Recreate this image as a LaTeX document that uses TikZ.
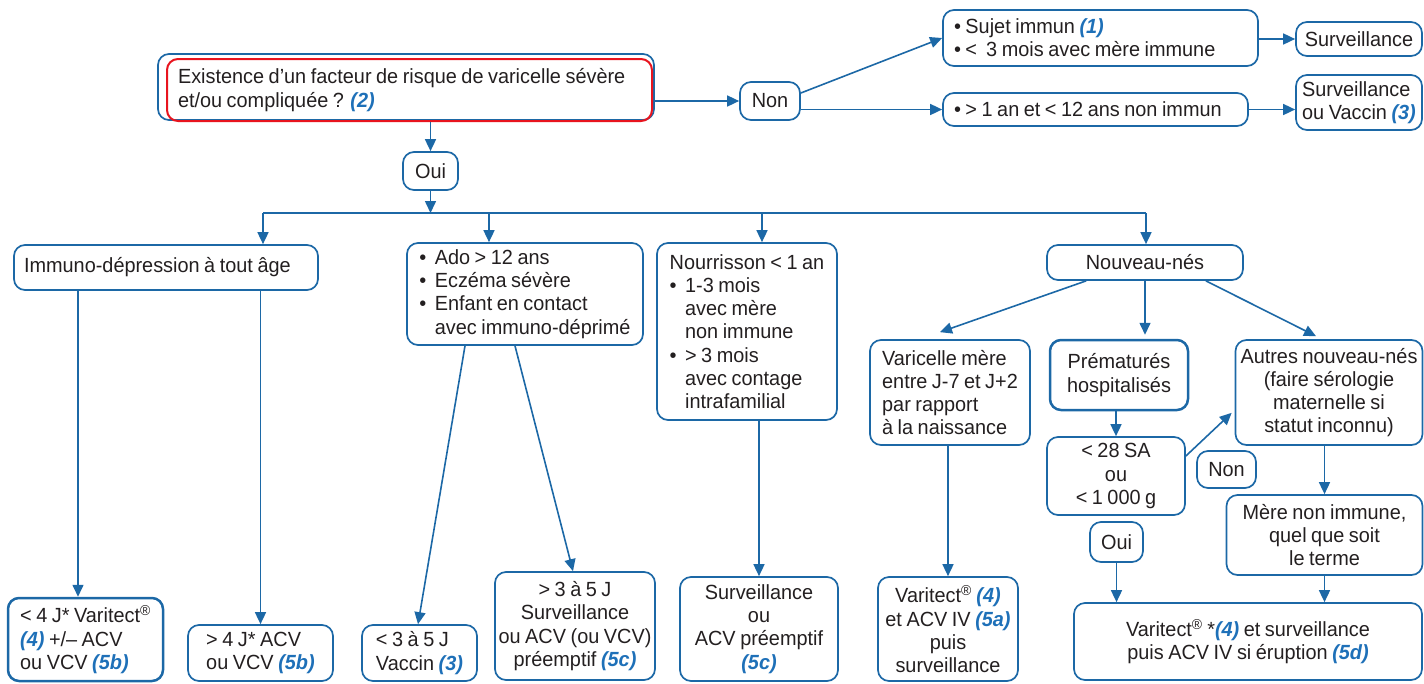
\documentclass[tikz,border=0pt]{standalone}
\usepackage{fontspec}
\setmainfont{Liberation Sans}[FakeStretch=0.97,WordSpace=0.82]
\usetikzlibrary{arrows.meta,calc}
\definecolor{bblue}{RGB}{28,104,166}
\definecolor{rblue}{RGB}{30,112,184}
\definecolor{tgray}{RGB}{35,31,32}
\definecolor{rred}{RGB}{232,20,30}
\newcommand\rf[1]{{\color{rblue}\bfseries\itshape #1}}
\newcommand\bul{\makebox[0.75em][l]{•}}
\newcommand\ind{\hspace*{0.75em}}
\newcommand\reg{\textsuperscript{®}}
\newcommand\tsp{\spaceskip=0pt\xspaceskip=0pt\relax}
\begin{document}
\begin{tikzpicture}[x=1pt,y=-1pt,
  font=\fontsize{20.5}{23.2}\selectfont,
  box/.style={draw=bblue, line width=1.7pt, rounded corners=11pt, inner sep=0pt, text=tgray, align=center},
  lbox/.style={box, align=left},
  thickbox/.style={box, line width=2.5pt},
  arr/.style={draw=bblue, line width=1.6pt, -{Triangle[length=12pt,width=11pt]}},
  ln/.style={draw=bblue, line width=1.6pt}]
\useasboundingbox (0,0) rectangle (1424,683);

% top decision
\node[box, minimum width=496pt, minimum height=66pt] (topb) at (406,87) {};
\node[lbox, draw=rred, line width=2pt, minimum width=485pt, minimum height=62pt, text width=471pt, inner xsep=7pt] (top) at (409.5,90) {\tsp\mbox{\hspace*{4pt}Existence d’un facteur de risque de varicelle sévère}\\\mbox{\hspace*{4pt}et/ou compliquée ? \rf{(2)}}};

\node[box, minimum width=60pt, minimum height=38pt] (non) at (770,101) {Non};
\node[lbox, minimum width=315pt, minimum height=56pt, text width=299pt, inner xsep=8pt] (sujet) at (1100.5,38) {\tsp\mbox{\hspace*{3pt}• Sujet immun \rf{(1)}}\\\mbox{\hspace*{3pt}• <\ \ 3 mois avec mère immune}};
\node[lbox, minimum width=305pt, minimum height=33pt, text width=291pt, inner xsep=7pt] (an) at (1095.5,109.5) {\tsp\mbox{\hspace*{4pt}• > 1 an et < 12 ans non immun}};
\node[box, minimum width=126pt, minimum height=34pt] (surv1) at (1359,39) {Surveillance};
\node[lbox, minimum width=126pt, minimum height=55pt] (surv2) at (1359,102.5) {Surveillance\\ou Vaccin \rf{(3)}};

\node[box, minimum width=55pt, minimum height=38pt] (oui) at (430.5,171) {Oui};

% second row
\node[lbox, minimum width=304pt, minimum height=45pt, text width=290pt, inner xsep=7pt] (immuno) at (166,267.5) {\tsp\mbox{\hspace*{3pt}Immuno-dépression à tout âge}};
\node[lbox, minimum width=236pt, minimum height=102pt] (ado) at (525,294) {\bul Ado > 12 ans\\\bul Eczéma sévère\\\bul Enfant en contact\\\ind avec immuno-déprimé};
\node[lbox, minimum width=180pt, minimum height=177pt] (nour) at (747,331.5) {Nourrisson < 1 an\\\bul 1-3 mois\\\ind avec mère\\\ind non immune\\\bul > 3 mois\\\ind avec contage\\\ind intrafamilial};
\node[box, minimum width=196pt, minimum height=35pt] (nn) at (1145,262.5) {Nouveau-nés};

% newborn branch
\node[lbox, minimum width=160pt, minimum height=105pt] (var) at (950,392.5) {Varicelle mère\\entre J-7 et J+2\\par rapport\\à la naissance};
\node[thickbox, minimum width=138pt, minimum height=70pt] (prem) at (1119,375) {Prématurés\\hospitalisés};
\node[box, minimum width=187pt, minimum height=105pt] (autres) at (1329,392.5) {Autres nouveau-nés\\(faire sérologie\\maternelle si\\statut inconnu)};
\node[box, minimum width=138pt, minimum height=78pt] (sa) at (1116,476) {< 28 SA\\ou\\< 1 000 g};
\node[box, minimum width=59pt, minimum height=37pt] (non2) at (1226.5,469.5) {Non};
\node[box, minimum width=53pt, minimum height=40pt] (oui2) at (1116.5,542) {Oui};
\node[box, minimum width=196pt, minimum height=80pt] (mere) at (1324.5,535) {Mère non immune,\\quel que soit\\le terme};
\node[box, minimum width=348pt, minimum height=77pt] (final) at (1248,641.5) {Varitect\reg\ *\rf{(4)} et surveillance\\puis ACV IV si éruption \rf{(5d)}};

% bottom row
\node[thickbox, align=left, minimum width=155pt, minimum height=83pt] (b1) at (85.5,639.5) {< 4 J* Varitect\reg\\\rf{(4)} +/– ACV\\ou VCV \rf{(5b)}};
\node[lbox, minimum width=145pt, minimum height=56pt] (b2) at (260.5,653) {> 4 J* ACV\\ou VCV \rf{(5b)}};
\node[lbox, minimum width=115pt, minimum height=56pt] (b3) at (419.5,653) {< 3 à 5 J\\Vaccin \rf{(3)}};
\node[box, minimum width=160pt, minimum height=108pt] (b4) at (575,626) {> 3 à 5 J\\Surveillance\\ou ACV (ou VCV)\\préemptif \rf{(5c)}};
\node[box, minimum width=158pt, minimum height=104pt] (b5) at (759,629) {Surveillance\\ou\\ACV préemptif\\\rf{(5c)}};
\node[box, minimum width=140pt, minimum height=104pt] (b6) at (948,629) {Varitect\reg\ \rf{(4)}\\et ACV IV \rf{(5a)}\\puis\\surveillance};

% connectors: top
\draw[arr] (topb.east |- non.west) -- (non.west);
\draw[arr] ([yshift=8pt]non.east) -- (sujet.west);
\draw[arr] (an.west -| non.east) -- (an.west);
\draw[arr] (sujet.east |- surv1.west) -- (surv1.west);
\draw[arr] (an.east) -- (an.east -| surv2.west);
\draw[arr] (oui.north |- top.south) -- (oui.north);

% bus
\coordinate (bus) at (430.5,213);
\coordinate (busL) at (263,213);
\coordinate (busA) at (489,213);
\coordinate (busN) at (762,213);
\coordinate (busR) at (1146,213);
\draw[arr] (oui.south) -- (bus);
\draw[ln] (busL) -- (busR);
\draw[arr] (busL) -- (busL |- immuno.north);
\draw[arr] (busA) -- (busA |- ado.north);
\draw[arr] (busN) -- (busN |- nour.north);
\draw[arr] (busR) -- (busR |- nn.north);

% row 2 to bottom
\coordinate (x78) at (78,0);
\draw[arr] (x78 |- immuno.south) -- (x78 |- b1.north);
\draw[arr] (b2.north |- immuno.south) -- (b2.north);
\draw[arr] ([xshift=-60pt]ado.south) -- ([xshift=-1.5pt]b3.north);
\draw[arr] ([xshift=-10pt]ado.south) -- ([xshift=-2pt]b4.north);
\draw[arr] (b5.north |- nour.south) -- (b5.north);
\draw[arr] (b6.north |- var.south) -- (b6.north);

% newborn
\coordinate (pm) at ([yshift=4pt]prem.north);
\draw[arr] ([xshift=40pt]nn.south west) -- ([shift={(-10pt,7pt)}]var.north);
\draw[arr] (nn.south) -- (pm -| nn.south);
\draw[arr] ([xshift=-38pt]nn.south east) -- ([shift={(-13pt,3pt)}]autres.north);
\draw[arr] (sa.north |- prem.south) -- (sa.north);
\draw[arr] ([yshift=20pt]sa.east) -- ([shift={(-3pt,33pt)}]autres.south west);
\draw[arr] (mere.north |- autres.south) -- (mere.north);
\draw[arr] (oui2.south) -- (oui2.south |- final.north);
\draw[arr] (mere.south) -- (mere.south |- final.north);
\end{tikzpicture}
\end{document}
